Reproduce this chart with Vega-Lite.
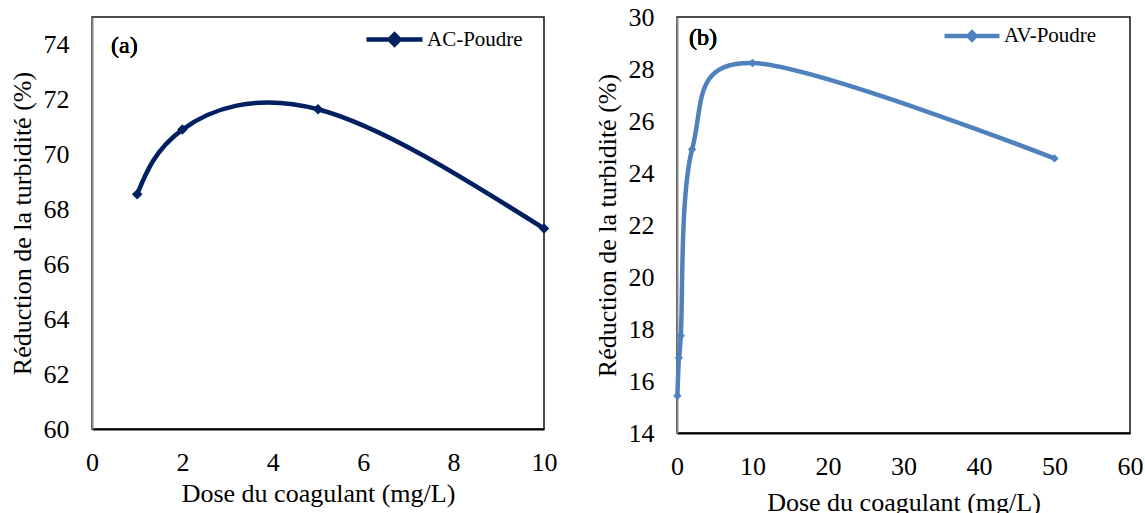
{
  "$schema": "https://vega.github.io/schema/vega-lite/v6.json",
  "padding": {"left": 8, "top": 3, "right": 5, "bottom": 0},
  "spacing": 35,
  "config": {
    "font": "Liberation Serif",
    "view": {"stroke": "#111", "strokeWidth": 1.5},
    "axis": {
      "labelFont": "Liberation Serif",
      "titleFont": "Liberation Serif",
      "labelFontSize": 26,
      "titleFontSize": 26,
      "titleFontWeight": "normal",
      "labelFontWeight": "normal",
      "labelColor": "#000",
      "titleColor": "#000",
      "labelFlush": false,
      "labelOverlap": false,
      "ticks": false,
      "grid": false
    },
    "legend": {
      "labelFont": "Liberation Serif",
      "labelFontSize": 21,
      "labelColor": "#000",
      "padding": 0
    }
  },
  "hconcat": [
    {
      "width": 452,
      "height": 412,
      "data": {"values": [
        {"dose": 1, "reduction": 68.55, "serie": "AC-Poudre"},
        {"dose": 2, "reduction": 70.9, "serie": "AC-Poudre"},
        {"dose": 5, "reduction": 71.64, "serie": "AC-Poudre"},
        {"dose": 10, "reduction": 67.3, "serie": "AC-Poudre"}
      ]},
      "layer": [
        {
          "mark": {"type": "line", "interpolate": "natural", "strokeWidth": 4.5},
          "encoding": {
            "x": {"field": "dose", "type": "quantitative", "scale": {"domain": [0, 10], "nice": false},
                  "axis": {"values": [0, 2, 4, 6, 8, 10], "title": "Dose du coagulant (mg/L)", "labelPadding": 20, "titlePadding": 5, "domainColor": "#000", "domainWidth": 2}},
            "y": {"field": "reduction", "type": "quantitative", "scale": {"domain": [60, 75], "nice": false, "zero": false},
                  "axis": {"values": [60, 62, 64, 66, 68, 70, 72, 74], "title": "Réduction de la turbidité (%)", "labelPadding": 23, "titlePadding": 8, "domainColor": "#888", "domainWidth": 2}},
            "color": {"field": "serie", "type": "nominal", "scale": {"range": ["#002060"]},
                      "legend": {"title": null, "orient": "none", "legendX": 272, "legendY": -8,
                                 "symbolType": "M-1,0H1M-0.18,0L0,-0.18L0.18,0L0,0.18Z", "symbolSize": 3136,
                                 "symbolStrokeWidth": 4.5, "symbolFillColor": "#002060", "symbolStrokeColor": "#002060", "labelOffset": 2}}
          }
        },
        {
          "mark": {"type": "point", "shape": "diamond", "filled": true, "size": 110, "opacity": 1},
          "encoding": {
            "x": {"field": "dose", "type": "quantitative"},
            "y": {"field": "reduction", "type": "quantitative"},
            "color": {"field": "serie", "type": "nominal"}
          }
        },
        {
          "mark": {"type": "text", "align": "left", "baseline": "middle", "fontSize": 24, "fontWeight": "normal", "font": "Liberation Serif", "color": "#000"},
          "encoding": {
            "x": {"datum": 0.42, "type": "quantitative"},
            "y": {"datum": 73.95, "type": "quantitative"},
            "text": {"value": "(a)"}
          }
        }
      ]
    },
    {
      "width": 453,
      "height": 416,
      "data": {"values": [
        {"dose": 0.05, "reduction": 15.43, "serie": "AV-Poudre"},
        {"dose": 0.25, "reduction": 16.89, "serie": "AV-Poudre"},
        {"dose": 0.5, "reduction": 17.74, "serie": "AV-Poudre"},
        {"dose": 2, "reduction": 24.91, "serie": "AV-Poudre"},
        {"dose": 10, "reduction": 28.23, "serie": "AV-Poudre"},
        {"dose": 50, "reduction": 24.56, "serie": "AV-Poudre"}
      ]},
      "layer": [
        {
          "mark": {"type": "line", "interpolate": "cardinal", "strokeWidth": 4.5},
          "encoding": {
            "x": {"field": "dose", "type": "quantitative", "scale": {"domain": [0, 60], "nice": false},
                  "axis": {"values": [0, 10, 20, 30, 40, 50, 60], "title": "Dose du coagulant (mg/L)", "labelPadding": 20, "titlePadding": 10, "domainColor": "#000", "domainWidth": 2}},
            "y": {"field": "reduction", "type": "quantitative", "scale": {"domain": [14, 30], "nice": false, "zero": false},
                  "axis": {"values": [14, 16, 18, 20, 22, 24, 26, 28, 30], "title": "Réduction de la turbidité (%)", "labelPadding": 23, "titlePadding": 8, "domainColor": "#888", "domainWidth": 2}},
            "color": {"field": "serie", "type": "nominal", "scale": {"range": ["#4F81BD"]},
                      "legend": {"title": null, "orient": "none", "legendX": 265, "legendY": -11,
                                 "symbolType": "M-1,0H1M-0.13,0L0,-0.13L0.13,0L0,0.13Z", "symbolSize": 3025,
                                 "symbolStrokeWidth": 4.5, "symbolFillColor": "#4F81BD", "symbolStrokeColor": "#4F81BD", "labelOffset": 2}}
          }
        },
        {
          "mark": {"type": "point", "shape": "diamond", "filled": true, "size": 70, "opacity": 1},
          "encoding": {
            "x": {"field": "dose", "type": "quantitative"},
            "y": {"field": "reduction", "type": "quantitative"},
            "color": {"field": "serie", "type": "nominal"}
          }
        },
        {
          "mark": {"type": "text", "align": "left", "baseline": "middle", "fontSize": 24, "fontWeight": "normal", "font": "Liberation Serif", "color": "#000"},
          "encoding": {
            "x": {"datum": 1.6, "type": "quantitative"},
            "y": {"datum": 29.2, "type": "quantitative"},
            "text": {"value": "(b)"}
          }
        }
      ]
    }
  ],
  "resolve": {"scale": {"color": "independent", "x": "independent", "y": "independent"}}
}
